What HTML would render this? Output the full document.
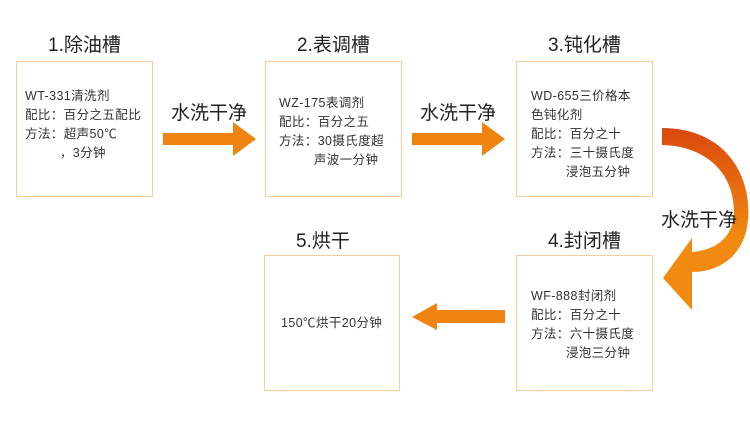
<!DOCTYPE html>
<html><head><meta charset="utf-8"><style>
body{margin:0;width:750px;height:429px;background:#fff;position:relative;overflow:hidden;font-family:"Liberation Sans","Noto Sans CJK SC",sans-serif;color:#333}
.box{position:absolute;border:1.5px solid #f9cd9a;box-sizing:border-box;background:#fff}
.t{position:absolute;font-size:19px;color:#222;white-space:nowrap}
.txt{position:absolute;font-size:12.5px;line-height:19px;color:#333;white-space:pre;letter-spacing:0.4px}
.lab{position:absolute;font-size:19px;color:#222;white-space:nowrap}
svg{position:absolute;left:0;top:0}
</style></head><body>
<div class="t" style="left:48px;top:30px">1.除油槽</div>
<div class="t" style="left:297px;top:30px">2.表调槽</div>
<div class="t" style="left:548px;top:30px">3.钝化槽</div>
<div class="t" style="left:548px;top:226px">4.封闭槽</div>
<div class="t" style="left:296px;top:226px">5.烘干</div>

<div class="box" style="left:16px;top:61px;width:137px;height:136px"></div>
<div class="box" style="left:265px;top:61px;width:137px;height:136px"></div>
<div class="box" style="left:516px;top:61px;width:137px;height:136px"></div>
<div class="box" style="left:516px;top:255px;width:137px;height:136px"></div>
<div class="box" style="left:264px;top:255px;width:136px;height:136px"></div>

<svg width="750" height="429">
<defs><linearGradient id="g" x1="0" y1="0" x2="0" y2="1"><stop offset="0" stop-color="#d9480f"/><stop offset="0.6" stop-color="#f08a10"/></linearGradient></defs>
<polygon fill="#ef8410" points="163,133 233,133 233,122 256,139 233,156 233,145 163,145"/>
<polygon fill="#ef8410" points="412,133 482,133 482,122 505,139 482,156 482,145 412,145"/>
<polygon fill="#ef8410" points="505,310 437,310 437,303 412,317 437,330 437,323 505,323"/>
<path fill="url(#g)" d="M662,128 C725,128 752,175 748,220 C745,255 720,272 692,272 L692,310 L663,278 L692,238 L692,252 C718,250 734,235 734,212 C734,172 705,146 662,145 Z"/>
</svg>

<div class="txt" style="left:25px;top:87px">WT-331清洗剂
配比：百分之五配比
方法：超声50℃
         ，3分钟</div>
<div class="txt" style="left:279px;top:94px">WZ-175表调剂
配比：百分之五
方法：30摄氏度超
         声波一分钟</div>
<div class="txt" style="left:531px;top:87px">WD-655三价格本
色钝化剂
配比：百分之十
方法：三十摄氏度
         浸泡五分钟</div>
<div class="txt" style="left:531px;top:287px">WF-888封闭剂
配比：百分之十
方法：六十摄氏度
         浸泡三分钟</div>
<div class="txt" style="left:281px;top:314px">150℃烘干20分钟</div>

<div class="lab" style="left:171px;top:98px">水洗干净</div>
<div class="lab" style="left:420px;top:98px">水洗干净</div>
<div class="lab" style="left:661px;top:205px">水洗干净</div>
</body></html>
